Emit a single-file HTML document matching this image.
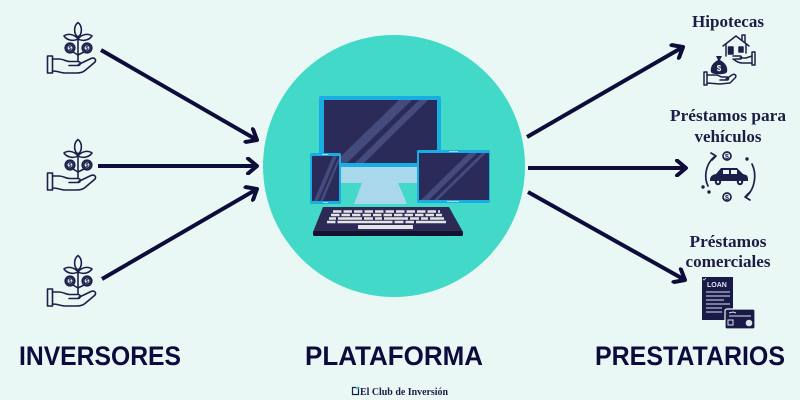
<!DOCTYPE html>
<html><head><meta charset="utf-8"><style>
html,body{margin:0;padding:0;background:#eaf8f5;}
svg{display:block;}
</style></head><body>
<svg width="800" height="400" viewBox="0 0 800 400" xmlns="http://www.w3.org/2000/svg">
<defs>
<marker id="ah" markerUnits="userSpaceOnUse" markerWidth="16" markerHeight="18" viewBox="0 -2 16 18" refX="12" refY="7" orient="auto">
<path d="M3,-0.5 L12,7 L3,14.5" fill="none" stroke="#0e0c3a" stroke-width="4" stroke-linecap="round" stroke-linejoin="round"/>
</marker>
</defs>
<rect width="800" height="400" fill="#eaf8f5"/>

<!-- arrows -->
<g stroke="#0e0c3a" stroke-width="4" fill="none" stroke-linecap="butt" marker-end="url(#ah)">
<line x1="101" y1="50" x2="257" y2="140"/>
<line x1="98" y1="166" x2="257" y2="166"/>
<line x1="102" y1="279" x2="257" y2="189"/>
<line x1="527" y1="137" x2="683" y2="47"/>
<line x1="528" y1="168" x2="686" y2="168"/>
<line x1="528" y1="192" x2="685" y2="280"/>
</g>

<!-- circle -->
<circle cx="394" cy="166" r="131" fill="#43d9c8"/>

<!-- monitor -->
<rect x="319" y="96" width="122" height="71" rx="2" fill="#19aee3"/>
<rect x="324" y="100" width="113" height="63" fill="#2b2b5a"/>
<polygon points="399,100 412,100 347,163 334,163" fill="#464b7d"/>
<polygon points="419,100 428,100 364,163 355,163" fill="#464b7d"/>
<rect x="341" y="167" width="76" height="16" fill="#a8d8ea"/>
<polygon points="362,183 398,183 407,204 354,204" fill="#a8d8ea"/>
<!-- phone -->
<rect x="310" y="153" width="31" height="51" rx="1.5" fill="#19aee3"/>
<rect x="312" y="156" width="27" height="45" fill="#2b2b5a"/>
<polygon points="333,156 337,156 318,201 314,201" fill="#464b7d"/>
<polygon points="338.5,158 339,162 323,201 320,201" fill="#464b7d"/>
<rect x="322" y="154" width="6" height="1" fill="#a8d8ea"/>
<rect x="323" y="202" width="5" height="1" fill="#a8d8ea"/>
<!-- tablet -->
<rect x="417" y="150" width="73" height="53" rx="1.5" fill="#19aee3"/>
<rect x="419" y="153" width="70" height="47" fill="#2b2b5a"/>
<polygon points="469,153 477,153 429,200 421,200" fill="#464b7d"/>
<polygon points="482,153 486,153 438,200 434,200" fill="#464b7d"/>
<rect x="449" y="151" width="9" height="1" fill="#a8d8ea"/>
<rect x="447" y="201" width="12" height="1" fill="#a8d8ea"/>
<!-- keyboard -->
<polygon points="323,207 449,207 463,232 313,232" fill="#2b2b55"/>
<rect x="313" y="231" width="150" height="5" rx="1.5" fill="#121230"/>
<g stroke="#e4e4e6" stroke-width="2.4">
<line x1="333" y1="211.5" x2="440" y2="211.5" stroke-dasharray="8.5 2"/>
<line x1="331" y1="215" x2="442" y2="215" stroke-dasharray="8.5 2"/>
<line x1="329" y1="218.5" x2="444" y2="218.5" stroke-dasharray="7 2 24 2 9 2"/>
<line x1="327" y1="222" x2="446" y2="222" stroke-dasharray="8.5 2 55 2 9 2"/>
</g>
<rect x="358" y="225" width="55" height="4" fill="#e4e4e6"/>

<!-- plant-hand icons -->
<g fill="none" stroke="#1c1f4a" stroke-width="1.6" stroke-linejoin="round" stroke-linecap="round" transform="translate(47,22)">
<rect x="0.5" y="34" width="5" height="17"/>
<path d="M5.5,37 L12,37 C16,37 19,39.5 23,39.5 L31,39.5 C34,39.5 34,43.5 31,43.5 L22,43.5"/>
<path d="M31.5,42.5 L44,36.5 C47.5,35 50,38 47.5,40.5 L38,48.5 C35.5,50.5 33,51 30,51 L18,51 C14,51 11,49 5.5,49"/>
<path d="M31,15 L31,39"/>
<path d="M31,0.5 C35.5,4 35.5,12 31,15 C26.5,12 26.5,4 31,0.5 Z"/>
<path d="M31,17 C27,11.5 20,11.5 17,14 C20,18.5 27,19.5 31,17 Z"/>
<path d="M31,17 C35,11.5 42,11.5 45,14 C42,18.5 35,19.5 31,17 Z"/>
<path d="M31,33 L26,30"/><path d="M31,33 L37,30"/>
<circle cx="23" cy="26" r="4.8"/><circle cx="23" cy="26" r="3.2"/>
<circle cx="40" cy="26" r="4.8"/><circle cx="40" cy="26" r="3.2"/>
<text x="23" y="28.2" font-size="5.5" text-anchor="middle" fill="#1c1f4a" stroke="none" font-family="Liberation Sans, sans-serif" font-weight="bold">$</text>
<text x="40" y="28.2" font-size="5.5" text-anchor="middle" fill="#1c1f4a" stroke="none" font-family="Liberation Sans, sans-serif" font-weight="bold">$</text>
</g>
<g fill="none" stroke="#1c1f4a" stroke-width="1.6" stroke-linejoin="round" stroke-linecap="round" transform="translate(47,139)">
<rect x="0.5" y="34" width="5" height="17"/>
<path d="M5.5,37 L12,37 C16,37 19,39.5 23,39.5 L31,39.5 C34,39.5 34,43.5 31,43.5 L22,43.5"/>
<path d="M31.5,42.5 L44,36.5 C47.5,35 50,38 47.5,40.5 L38,48.5 C35.5,50.5 33,51 30,51 L18,51 C14,51 11,49 5.5,49"/>
<path d="M31,15 L31,39"/>
<path d="M31,0.5 C35.5,4 35.5,12 31,15 C26.5,12 26.5,4 31,0.5 Z"/>
<path d="M31,17 C27,11.5 20,11.5 17,14 C20,18.5 27,19.5 31,17 Z"/>
<path d="M31,17 C35,11.5 42,11.5 45,14 C42,18.5 35,19.5 31,17 Z"/>
<path d="M31,33 L26,30"/><path d="M31,33 L37,30"/>
<circle cx="23" cy="26" r="4.8"/><circle cx="23" cy="26" r="3.2"/>
<circle cx="40" cy="26" r="4.8"/><circle cx="40" cy="26" r="3.2"/>
<text x="23" y="28.2" font-size="5.5" text-anchor="middle" fill="#1c1f4a" stroke="none" font-family="Liberation Sans, sans-serif" font-weight="bold">$</text>
<text x="40" y="28.2" font-size="5.5" text-anchor="middle" fill="#1c1f4a" stroke="none" font-family="Liberation Sans, sans-serif" font-weight="bold">$</text>
</g>
<g fill="none" stroke="#1c1f4a" stroke-width="1.6" stroke-linejoin="round" stroke-linecap="round" transform="translate(47,255)">
<rect x="0.5" y="34" width="5" height="17"/>
<path d="M5.5,37 L12,37 C16,37 19,39.5 23,39.5 L31,39.5 C34,39.5 34,43.5 31,43.5 L22,43.5"/>
<path d="M31.5,42.5 L44,36.5 C47.5,35 50,38 47.5,40.5 L38,48.5 C35.5,50.5 33,51 30,51 L18,51 C14,51 11,49 5.5,49"/>
<path d="M31,15 L31,39"/>
<path d="M31,0.5 C35.5,4 35.5,12 31,15 C26.5,12 26.5,4 31,0.5 Z"/>
<path d="M31,17 C27,11.5 20,11.5 17,14 C20,18.5 27,19.5 31,17 Z"/>
<path d="M31,17 C35,11.5 42,11.5 45,14 C42,18.5 35,19.5 31,17 Z"/>
<path d="M31,33 L26,30"/><path d="M31,33 L37,30"/>
<circle cx="23" cy="26" r="4.8"/><circle cx="23" cy="26" r="3.2"/>
<circle cx="40" cy="26" r="4.8"/><circle cx="40" cy="26" r="3.2"/>
<text x="23" y="28.2" font-size="5.5" text-anchor="middle" fill="#1c1f4a" stroke="none" font-family="Liberation Sans, sans-serif" font-weight="bold">$</text>
<text x="40" y="28.2" font-size="5.5" text-anchor="middle" fill="#1c1f4a" stroke="none" font-family="Liberation Sans, sans-serif" font-weight="bold">$</text>
</g>

<!-- right labels -->
<g font-family="Liberation Serif, serif" font-weight="bold" fill="#1c1c45" font-size="16.5" text-anchor="middle">
<text x="728" y="27" textLength="72" lengthAdjust="spacingAndGlyphs">Hipotecas</text>
<text x="728" y="121" textLength="116" lengthAdjust="spacingAndGlyphs">Préstamos para</text>
<text x="728" y="142" textLength="67" lengthAdjust="spacingAndGlyphs">vehículos</text>
<text x="728" y="247" textLength="77" lengthAdjust="spacingAndGlyphs">Préstamos</text>
<text x="728" y="267" textLength="85" lengthAdjust="spacingAndGlyphs">comerciales</text>
</g>

<!-- Hipotecas icon -->
<g stroke="#1c1f4a" stroke-width="1.5" fill="none" stroke-linejoin="round" stroke-linecap="round">
<path d="M723,46 L736,36 L749,46"/>
<path d="M742,40 L742,35 L745,35 L745,42"/>
<path d="M726,44 L726,56 M746,44 L746,53"/>
<rect x="728.5" y="47" width="4.5" height="7" fill="#1c1f4a"/>
<rect x="739" y="47" width="4" height="5" fill="#1c1f4a"/>
<path d="M733,56 L740,56 C742,56 742,59 740,59 L735,59 M740,58 L746,58 L752,56 M752,63 L742,63 C738,63 736,61 733,59"/>
<rect x="752" y="52" width="3" height="13"/>
<rect x="704" y="72" width="3" height="13"/>
<path d="M707,75 L716,75 C719,75 720,77 722,77 L727,77 C729,77 729,80 727,80 L720,80 M726,79 L732,75 C735,73 737,76 735,78 L730,83 L720,84 L707,83"/>
</g>
<path d="M716,56 L722,56 L720,60 C726,63 728,68 727,72 C726,75 712,75 711,72 C710,68 712,63 718,60 Z" fill="#1c1f4a"/>
<text x="719" y="71" font-size="8" fill="#eaf8f5" text-anchor="middle" font-family="Liberation Sans, sans-serif" font-weight="bold">$</text>

<!-- vehicle icon -->
<g stroke="#1c1f4a" stroke-width="1.7" fill="none" stroke-linecap="round" stroke-linejoin="round">
<path d="M711,153 L716,156 L712,160"/>
<path d="M714,157 C705,165 704,178 708,186"/>
<path d="M752,164 C757,174 755,188 747,196"/>
<path d="M750,192 L745,197 L750,200"/>
<circle cx="727" cy="156" r="4"/>
<circle cx="727" cy="197" r="4"/>
</g>
<text x="727" y="159" font-size="7" fill="#1c1f4a" text-anchor="middle" font-family="Liberation Sans, sans-serif" font-weight="bold">$</text>
<text x="727" y="200" font-size="7" fill="#1c1f4a" text-anchor="middle" font-family="Liberation Sans, sans-serif" font-weight="bold">$</text>
<g fill="#1c1f4a">
<circle cx="747" cy="159" r="1.7"/>
<circle cx="703" cy="187" r="1.7"/>
<circle cx="709" cy="192" r="1.7"/>
<path d="M716,174 L721,168 L737,168 L743,174 L746,175 C748,176 748,178 748,181 L710,181 C710,177 711,175 716,174 Z"/>
<circle cx="718" cy="182" r="3.2"/>
<circle cx="740" cy="182" r="3.2"/>
</g>
<rect x="723" y="170" width="6" height="4" fill="#eaf8f5"/>
<rect x="731" y="170" width="6" height="4" fill="#eaf8f5"/>
<circle cx="718" cy="182" r="1.2" fill="#eaf8f5"/>
<circle cx="740" cy="182" r="1.2" fill="#eaf8f5"/>

<!-- loan icon -->
<rect x="702" y="277" width="31" height="43" fill="#1a1a48"/>
<text x="707" y="287" font-size="7" fill="#dfe3f0" font-family="Liberation Sans, sans-serif" font-weight="bold">LOAN</text>
<path d="M703,279 L704,280 L706,278" stroke="#dfe3f0" stroke-width="0.8" fill="none"/>
<g stroke="#dfe3f0" stroke-width="1">
<line x1="706" y1="292" x2="730" y2="292"/>
<line x1="706" y1="296" x2="730" y2="296"/>
<line x1="706" y1="300" x2="724" y2="300"/>
<line x1="706" y1="304" x2="730" y2="304"/>
<line x1="706" y1="308" x2="722" y2="308"/>
<line x1="706" y1="312" x2="722" y2="312"/>
</g>
<rect x="725" y="309" width="30" height="20" rx="2" fill="#1a1a48" stroke="#eaf8f5" stroke-width="1.2"/>
<g stroke="#dfe3f0" stroke-width="1">
<line x1="729" y1="316" x2="751" y2="316"/>
<path d="M729,313 L733,312 L736,313" fill="none"/>
</g>
<rect x="728" y="320" width="5" height="5" fill="none" stroke="#dfe3f0" stroke-width="1"/>
<circle cx="749" cy="323" r="3.3" fill="#dfe3f0"/>

<!-- bottom labels -->
<g font-family="Liberation Sans, sans-serif" font-weight="bold" fill="#0d0b3d" font-size="27">
<text x="19" y="365" textLength="162" lengthAdjust="spacingAndGlyphs">INVERSORES</text>
<text x="305" y="365" textLength="178" lengthAdjust="spacingAndGlyphs">PLATAFORMA</text>
<text x="595" y="365" textLength="190" lengthAdjust="spacingAndGlyphs">PRESTATARIOS</text>
</g>

<!-- footer -->
<rect x="352.5" y="387.5" width="6" height="7" fill="none" stroke="#1c1c45" stroke-width="1.2"/>
<rect x="356" y="387" width="2.5" height="2.5" fill="#43d9c8"/>
<text x="360" y="395" font-size="10" fill="#1c1c45" font-family="Liberation Serif, serif" font-weight="bold" textLength="88" lengthAdjust="spacingAndGlyphs">El Club de Inversión</text>
</svg>
</body></html>
